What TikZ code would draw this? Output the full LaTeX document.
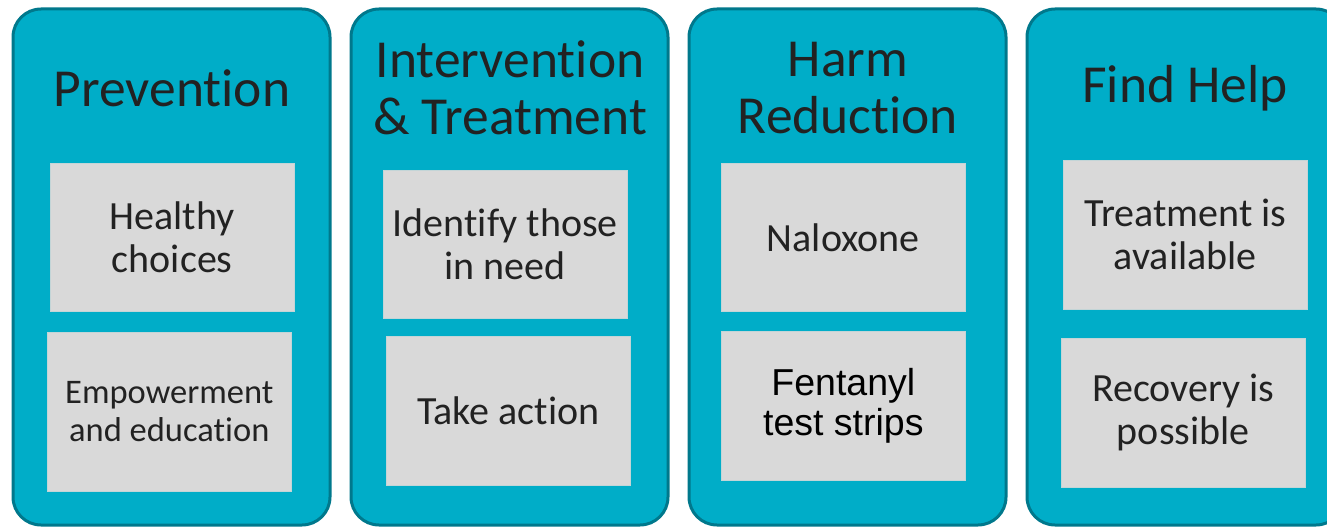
\documentclass[tikz,border=0pt]{standalone}
\usepackage{fontspec}
\setmainfont{Carlito}[Ligatures=NoCommon]
\newfontfamily\arialfont{Liberation Sans}
\definecolor{panelteal}{HTML}{00ADC8}
\definecolor{paneledge}{HTML}{00788C}
\definecolor{boxgray}{HTML}{D9D9D9}
\definecolor{inktext}{HTML}{222222}
\begin{document}
\begin{tikzpicture}[x=1pt,y=-1pt,
  panel/.style={draw=paneledge, line width=3pt, fill=panelteal, rounded corners=28pt},
  title/.style={text=inktext, align=center, font=\fontsize{53.5}{57}\selectfont},
  card/.style={fill=boxgray, draw=boxgray!90!panelteal, line width=0.6pt, minimum width=244pt, minimum height=148pt, text=inktext, align=center, font=\fontsize{40}{43}\selectfont, anchor=north west, inner sep=0pt}]
\useasboundingbox (0,0) rectangle (1327,527);
% the four columns
\draw[panel] (13,9) rectangle (330,525);
\draw[panel] (351,9) rectangle (668,525);
\draw[panel] (689,9) rectangle (1006,525);
\draw[panel] (1027,9) rectangle (1344,525);
% headings
\node[title] (prev) at (172,88) {Prevention};
\node[title] (inter) at (510,88) {Intervention\\\& Treatment};
\node[title] (harm) at (848,88) {Harm\\Reduction};
\node[title] (help) at (1185,88) {Find Help};
% cards
\node[card] (healthy) at (50,163) {Healthy\\choices};
\node[card, minimum height=159pt, font=\fontsize{34.5}{38}\selectfont] (empower) at (47,332) {Empowerment\\and education};
\node[card] (identify) at (383,170) {Identify those\\in need};
\node[card, minimum height=149pt] (action) at (386,336) {Take action};
\node[card] (naloxone) at (721,163) {Naloxone};
\node[card, minimum height=149pt, text=black, font=\arialfont\fontsize{37.5}{40}\selectfont] (strips) at (721,331) {Fentanyl\\test strips};
\node[card, minimum height=149pt] (avail) at (1063,160) {Treatment is\\available};
\node[card, minimum height=149pt] (recovery) at (1061,338) {Recovery is\\possible};
\end{tikzpicture}
\end{document}
